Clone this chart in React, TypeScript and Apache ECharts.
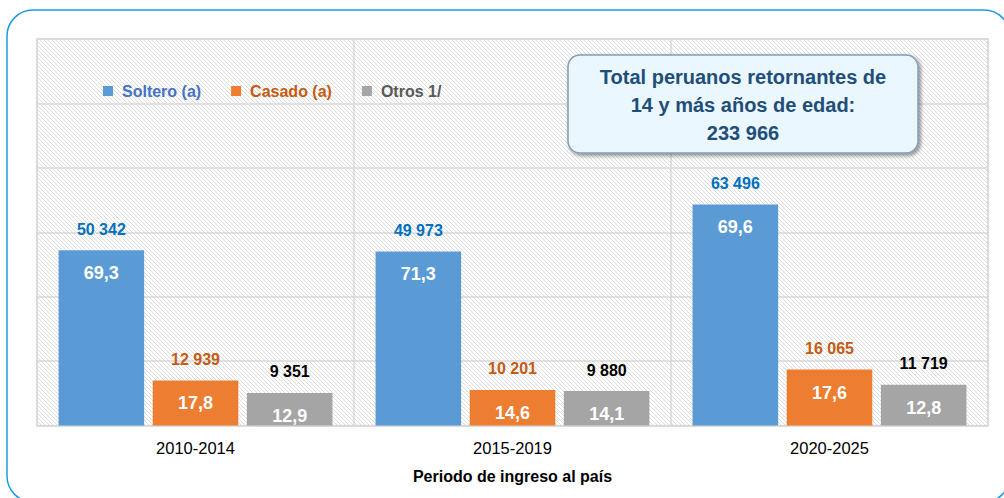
import React, { useEffect, useRef } from "react";
import * as echarts from "echarts";

const categories = ["2010-2014", "2015-2019", "2020-2025"];
const seriesNames = ["Soltero (a)", "Casado (a)", "Otros 1/"];
const solteroCount = [50342, 49973, 63496];
const casadoCount = [12939, 10201, 16065];
const otrosCount = [9351, 9880, 11719];
const solteroPct = [69.3, 71.3, 69.6];
const casadoPct = [17.8, 14.6, 17.6];
const otrosPct = [12.9, 14.1, 12.8];
const totalLines = ["Total peruanos retornantes de", "14 y más años de edad:", "233 966"];
const axisTitle = "Periodo de ingreso al país";

const FONT = '"Liberation Sans", Arial, sans-serif';
const barColors = ["#5B9BD5", "#ED7D31", "#A5A5A5"];
const countColors = ["#0070C0", "#C55A11", "#000000"];
const legendColors = ["#4472C4", "#C55A11", "#595959"];

const fmtCount = (v: number) => String(v).replace(/\B(?=(\d{3})+(?!\d))/g, " ");
const fmtPct = (v: number) => v.toFixed(1).replace(".", ",");

const hatchSvg =
  "<svg xmlns='http://www.w3.org/2000/svg' width='4' height='4'>" +
  "<path d='M-1,-1 L5,5 M-1,3 L1,5 M3,-1 L5,1' stroke='#d9d9d9' stroke-width='0.9'/></svg>";
const hatchUrl = "data:image/svg+xml;charset=utf-8," + encodeURIComponent(hatchSvg);

export default function App() {
  const ref = useRef<HTMLDivElement>(null);
  useEffect(() => {
    if (!ref.current) return;
    const chart = echarts.init(ref.current, null, { renderer: "svg" });
    const counts = [solteroCount, casadoCount, otrosCount];
    const pcts = [solteroPct, casadoPct, otrosPct];
    const series = seriesNames.map((name, i) => ({
      name,
      type: "bar",
      data: counts[i],
      barCategoryGap: "13.6%",
      barGap: "10%",
      itemStyle: { color: barColors[i] },
      label: {
        show: true,
        position: "insideTop",
        distance: 0,
        offset: [0, -31],
        formatter: (p: any) =>
          `{c|${fmtCount(p.value)}}\n{s| }\n{p|${fmtPct(pcts[i][p.dataIndex])}}`,
        rich: {
          c: { color: countColors[i], fontSize: 16, fontWeight: "bold", fontFamily: FONT, lineHeight: 20 },
          s: { fontSize: 2, lineHeight: 23 },
          p: { color: "#ffffff", fontSize: 18, fontWeight: "bold", fontFamily: FONT, lineHeight: 22 },
        },
      },
    }));
    chart.setOption({
      animation: false,
      backgroundColor: "#ffffff",
      textStyle: { fontFamily: FONT },
      legend: {
        left: 103,
        top: 83,
        padding: 0,
        icon: "rect",
        itemWidth: 10,
        itemHeight: 10,
        itemGap: 30,
        data: seriesNames.map((n, i) => ({
          name: n,
          textStyle: { color: legendColors[i], fontSize: 16, fontWeight: "bold", fontFamily: FONT, padding: [0, 0, 0, 4] },
        })),
      },
      grid: {
        show: true,
        left: 37,
        right: 16,
        top: 39,
        bottom: 72.5,
        backgroundColor: { image: hatchUrl, repeat: "repeat", imageWidth: 4, imageHeight: 4 },
        borderColor: "#d9d9d9",
        borderWidth: 1.5,
      },
      xAxis: {
        type: "category",
        data: categories,
        axisTick: { show: false },
        axisLine: { lineStyle: { color: "#d9d9d9", width: 1.5 } },
        axisLabel: { color: "#000", fontSize: 16.5, fontFamily: FONT, margin: 14 },
        splitLine: { show: true, lineStyle: { color: "#d9d9d9", width: 1.5 } },
        name: axisTitle,
        nameLocation: "middle",
        nameGap: 43,
        nameTextStyle: { color: "#000", fontSize: 16, fontWeight: "bold", fontFamily: FONT },
      },
      yAxis: {
        type: "value",
        min: 0,
        max: 111000,
        interval: 18500,
        axisLabel: { show: false },
        axisLine: { show: false },
        axisTick: { show: false },
        splitLine: { lineStyle: { color: "#d9d9d9", width: 1.5 } },
      },
      series,
      graphic: [
        {
          type: "rect",
          silent: true,
          z: 100,
          shape: { x: 7, y: 10, width: 1003, height: 492, r: 26 },
          style: { fill: "none", stroke: "#1E9BE0", lineWidth: 1.5 },
        },
        {
          type: "rect",
          z: 101,
          shape: { x: 568, y: 55, width: 350, height: 98, r: 12 },
          style: {
            fill: "#EBF7FE",
            stroke: "#7F9DB9",
            lineWidth: 1.5,
            shadowBlur: 4,
            shadowOffsetX: 2,
            shadowOffsetY: 2,
            shadowColor: "rgba(0,0,0,0.45)",
          },
        },
        {
          type: "text",
          z: 102,
          style: {
            x: 743,
            y: 105,
            text: totalLines.join("\n"),
            align: "center",
            verticalAlign: "middle",
            fontSize: 20,
            fontWeight: "bold",
            fontFamily: FONT,
            lineHeight: 28,
            fill: "#1F4E79",
          },
        },
      ],
    });
    return () => chart.dispose();
  }, []);
  return (
    <div
      ref={ref}
      style={{ position: "absolute", left: 0, top: 0, width: 1004, height: 498 }}
    />
  );
}
